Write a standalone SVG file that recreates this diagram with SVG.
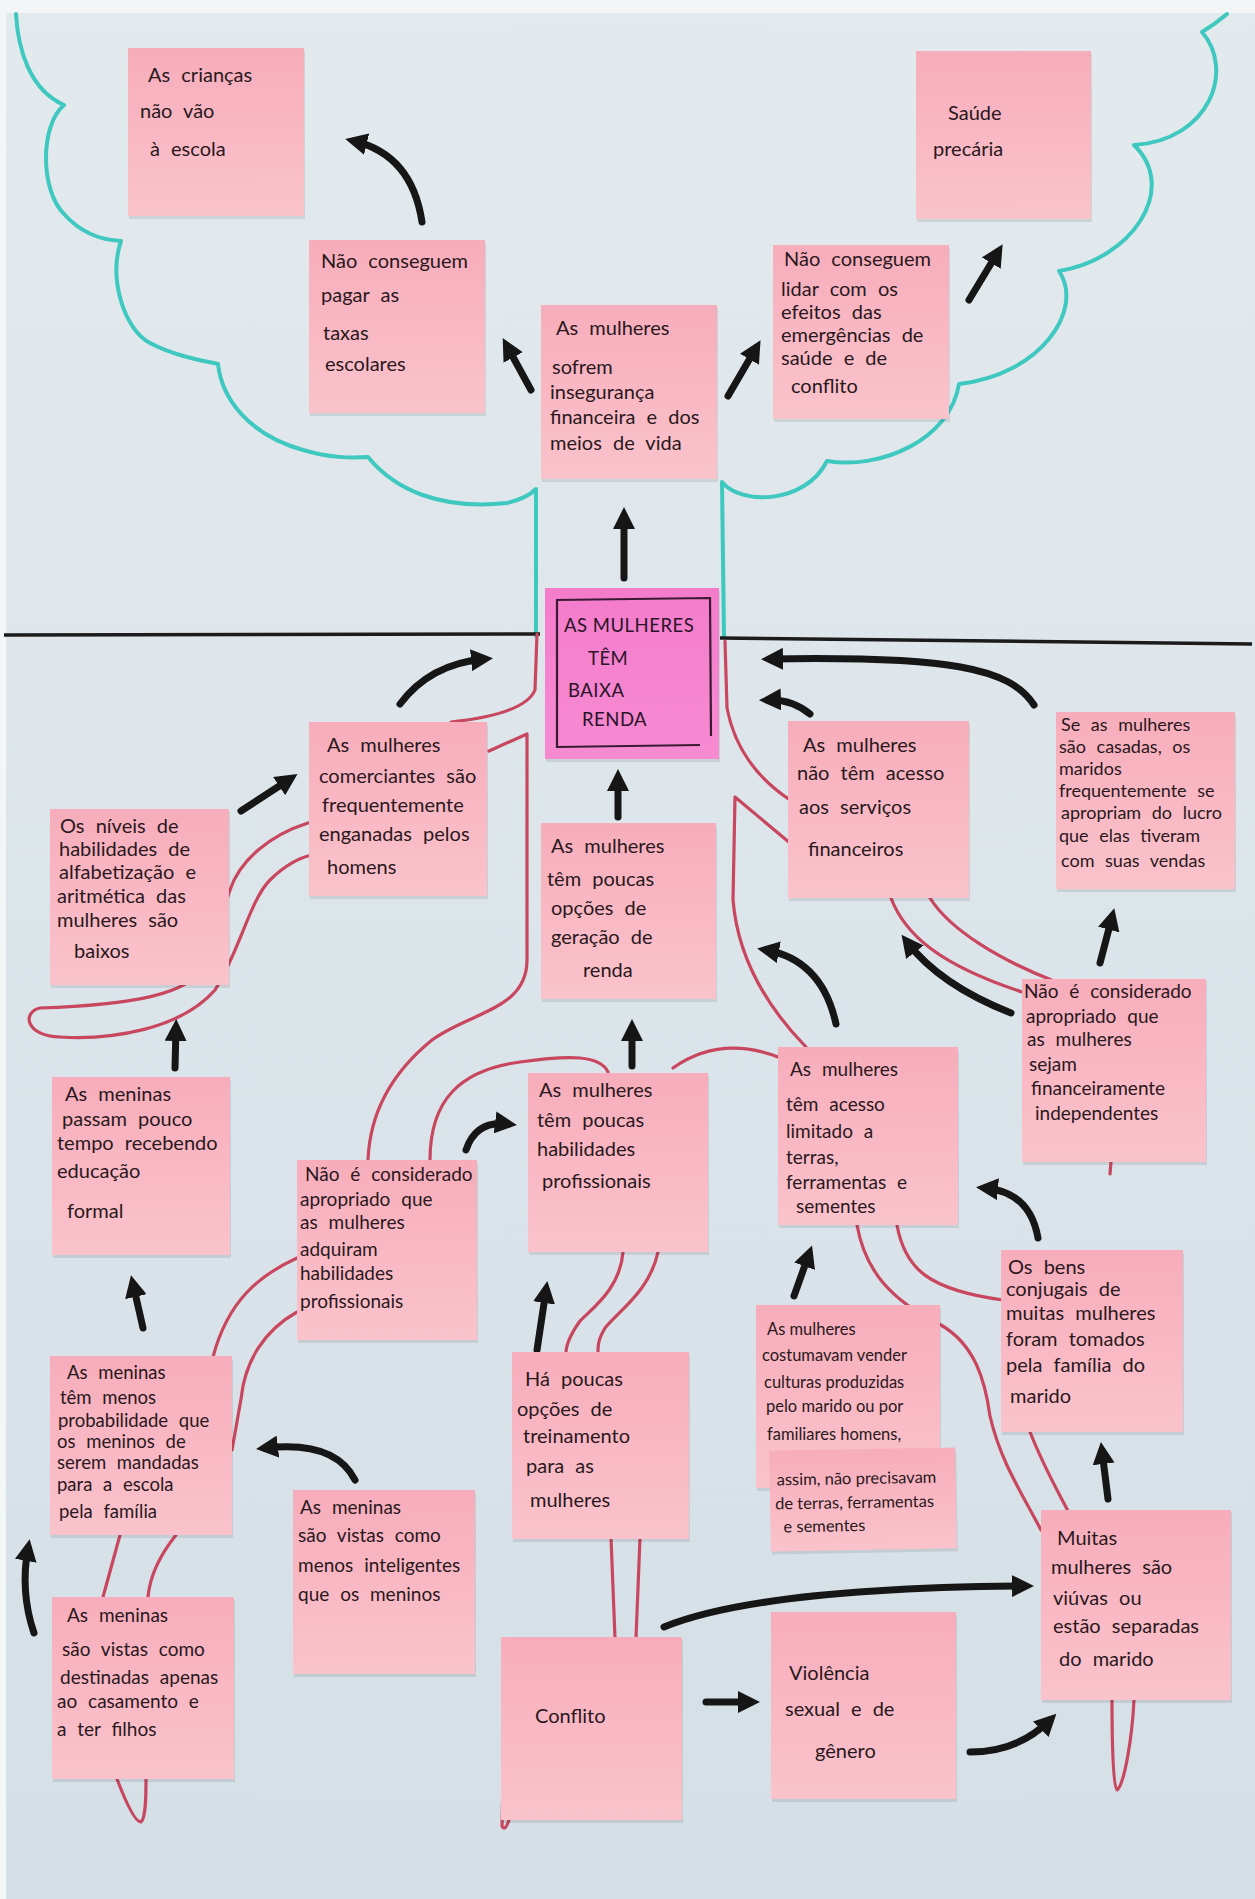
<svg xmlns="http://www.w3.org/2000/svg" width="1255" height="1899" viewBox="0 0 1255 1899">
<defs>
<linearGradient id="board" x1="0" y1="0" x2="0" y2="1">
<stop offset="0" stop-color="#e3eaee"/>
<stop offset="1" stop-color="#d4dfe6"/>
</linearGradient>
<linearGradient id="note" x1="0" y1="0" x2="0" y2="1">
<stop offset="0" stop-color="#f7adbb"/>
<stop offset="1" stop-color="#fac3cc"/>
</linearGradient>
<linearGradient id="core" x1="0" y1="0" x2="0" y2="1">
<stop offset="0" stop-color="#f47ccb"/>
<stop offset="1" stop-color="#f68bd2"/>
</linearGradient>
<marker id="ah" markerUnits="userSpaceOnUse" viewBox="0 0 22 22" markerWidth="22" markerHeight="22" refX="13" refY="11" orient="auto">
<path d="M0,0 L22,11 L0,22 z" fill="#161616"/>
</marker>
<style>
.n{fill:url(#note)}
.sh{fill:#000;opacity:0.09}
.t{font-family:Lato,"Liberation Sans",sans-serif;font-size:20px;fill:#2a1820;word-spacing:6px}
.ts{font-family:Lato,"Liberation Sans",sans-serif;font-size:16.5px;fill:#2a1820}
.tc{font-family:Lato,"Liberation Sans",sans-serif;font-size:18.5px;fill:#2a1428;letter-spacing:0.5px}
.root{fill:none;stroke:#c8475f;stroke-width:3.2;stroke-linecap:round;stroke-linejoin:round}
.arw{fill:none;stroke:#161616;stroke-width:7;stroke-linecap:round;marker-end:url(#ah)}
.cloud{fill:none;stroke:#3fc8bf;stroke-width:4;stroke-linecap:round;stroke-linejoin:round}
.hl{fill:none;stroke:#1b1b1b;stroke-width:3.5}
</style>
</defs>
<rect x="0" y="0" width="1255" height="1899" fill="#f3f6f7"/>
<rect x="6" y="13" width="1249" height="1886" fill="url(#board)"/>

<g id="tree-outline">
<path class="cloud" d="M16,14 C18,50 30,90 64,105 C40,125 40,190 64,214 C80,232 100,240 121,241 C108,280 125,330 150,343 C175,356 200,360 218,364 C222,400 250,435 303,450 C330,458 350,458 368,457 C395,490 440,510 507,503 C520,500 530,495 536,489 L536,636"/>
<path class="cloud" d="M724,636 L722,482 C740,505 805,505 827,461 C880,470 950,440 959,384 C1040,375 1085,310 1059,271 C1130,260 1180,190 1134,145 C1210,140 1235,70 1202,32 C1212,26 1220,20 1227,14"/>
<path class="hl" d="M4,635 L540,634"/>
<path class="hl" d="M720,638 L1252,644"/>
</g>

<g id="connectors">
<g id="roots">
<path class="root" d="M537,634 L535,690 Q525,714 451,722"/>
<path class="root" d="M489,751 L527,734 L527,960 C527,1010 470,1012 432,1040 C395,1070 370,1110 368,1160"/>
<path class="root" d="M430,1160 C430,1100 460,1070 520,1062 C570,1055 600,1055 608,1072"/>
<path class="root" d="M673,1068 Q720,1035 778,1057"/>
<path class="root" d="M308,823 C270,835 240,860 230,890 L205,965 C190,995 130,1005 40,1008 C22,1012 25,1036 60,1037 C110,1040 180,1030 215,990 C240,950 250,900 270,880 C285,865 300,858 308,856"/>
<path class="root" d="M725,641 L727,708 C735,750 760,780 790,800"/>
<path class="root" d="M790,843 L735,797 L733,900 C738,960 770,1010 806,1047"/>
<path class="root" d="M891,898 C905,935 940,965 1022,992"/>
<path class="root" d="M930,898 C950,930 1000,960 1054,981"/>
<path class="root" d="M1111,1162 L1110,1174"/>
<path class="root" d="M857,1225 C865,1270 890,1300 941,1325 C975,1345 985,1380 990,1416 C1000,1460 1020,1490 1041,1530"/>
<path class="root" d="M897,1225 C905,1270 930,1290 1003,1300"/>
<path class="root" d="M1030,1432 C1045,1470 1060,1495 1069,1513"/>
<path class="root" d="M611,1538 L615,1638"/>
<path class="root" d="M640,1538 L636,1638"/>
<path class="root" d="M623,1252 C620,1290 590,1310 580,1321 C570,1335 566,1345 566,1353"/>
<path class="root" d="M658,1252 C650,1290 620,1310 605,1328 C598,1340 598,1345 598,1353"/>
<path class="root" d="M297,1258 C260,1275 228,1300 213,1357"/>
<path class="root" d="M297,1312 C265,1330 245,1360 241,1399 L232,1450"/>
<path class="root" d="M120,1535 L103,1597"/>
<path class="root" d="M176,1535 C160,1555 150,1575 148,1597"/>
<path class="root" d="M117,1779 C125,1800 135,1822 141,1822 C146,1818 146,1795 146,1779"/>
<path class="root" d="M1112,1700 C1112,1740 1113,1790 1117,1790 C1124,1785 1132,1740 1134,1700"/>
<path class="root" d="M503,1780 L502,1826 Q505,1832 509,1820"/>
</g>
<g id="arrows">
<path class="arw" d="M422,222 Q412,155 354,141"/>
<path class="arw" d="M531,390 L507,346"/>
<path class="arw" d="M728,396 L756,348"/>
<path class="arw" d="M969,300 L998,252"/>
<path class="arw" d="M624,578 L624,516"/>
<path class="arw" d="M400,704 Q430,664 484,659"/>
<path class="arw" d="M1034,705 C1010,668 950,656 770,659"/>
<path class="arw" d="M810,714 Q792,699 768,700"/>
<path class="arw" d="M618,817 L618,778"/>
<path class="arw" d="M241,811 L290,779"/>
<path class="arw" d="M175,1068 L176,1028"/>
<path class="arw" d="M632,1066 L632,1028"/>
<path class="arw" d="M836,1024 Q822,960 766,950"/>
<path class="arw" d="M1011,1013 Q940,985 907,942"/>
<path class="arw" d="M1100,963 L1112,917"/>
<path class="arw" d="M466,1150 Q476,1120 508,1124"/>
<path class="arw" d="M1038,1238 Q1030,1192 985,1188"/>
<path class="arw" d="M794,1296 L809,1254"/>
<path class="arw" d="M537,1350 L546,1290"/>
<path class="arw" d="M143,1328 L133,1284"/>
<path class="arw" d="M355,1480 Q335,1440 265,1448"/>
<path class="arw" d="M34,1633 Q20,1592 28,1548"/>
<path class="arw" d="M1108,1499 L1102,1451"/>
<path class="arw" d="M664,1627 Q760,1588 1025,1586"/>
<path class="arw" d="M706,1702 L751,1702"/>
<path class="arw" d="M970,1752 Q1018,1752 1050,1720"/>
</g>
</g>

<g id="n-criancas">
<rect class="sh" x="129" y="51" width="176" height="168"/>
<rect class="n" x="128" y="48" width="176" height="168"/>
<text class="t"><tspan x="148" y="82">As   crianças</tspan><tspan x="140" y="118">não   vão</tspan><tspan x="150" y="156">à   escola</tspan></text>
</g>
<g id="n-saude">
<rect class="sh" x="917" y="54" width="175" height="168"/>
<rect class="n" x="916" y="51" width="175" height="168"/>
<text class="t"><tspan x="948" y="120">Saúde</tspan><tspan x="933" y="156">precária</tspan></text>
</g>
<g id="n-pagar">
<rect class="sh" x="310" y="243" width="176" height="173"/>
<rect class="n" x="309" y="240" width="176" height="173"/>
<text class="t"><tspan x="321" y="268">Não conseguem</tspan><tspan x="321" y="302">pagar   as</tspan><tspan x="323" y="340">taxas</tspan><tspan x="325" y="371">escolares</tspan></text>
</g>
<g id="n-inseguranca">
<rect class="sh" x="542" y="308" width="176" height="174"/>
<rect class="n" x="541" y="305" width="176" height="174"/>
<text class="t"><tspan x="556" y="335">As   mulheres</tspan><tspan x="552" y="374">sofrem</tspan><tspan x="550" y="399">insegurança</tspan><tspan x="550" y="424">financeira e dos</tspan><tspan x="550" y="450">meios de vida</tspan></text>
</g>
<g id="n-lidar">
<rect class="sh" x="774" y="248" width="176" height="174"/>
<rect class="n" x="773" y="245" width="176" height="174"/>
<text class="t"><tspan x="784" y="266">Não conseguem</tspan><tspan x="781" y="296">lidar com os</tspan><tspan x="781" y="319">efeitos das</tspan><tspan x="781" y="342">emergências de</tspan><tspan x="781" y="365">saúde e de</tspan><tspan x="791" y="393">conflito</tspan></text>
</g>
<g id="n-core">
<rect class="sh" x="546" y="591" width="174" height="171"/>
<rect x="545" y="588" width="174" height="171" fill="url(#core)"/>
<path d="M556,600 L710,598 L711,736 M557,600 L557,747 L700,745" fill="none" stroke="#3a1a33" stroke-width="2.2"/>
<text class="tc"><tspan x="564" y="632">AS MULHERES</tspan><tspan x="588" y="665">TÊM</tspan><tspan x="568" y="697">BAIXA</tspan><tspan x="582" y="726">RENDA</tspan></text>
</g>
<g id="n-comerciantes">
<rect class="sh" x="310" y="725" width="178" height="174"/>
<rect class="n" x="309" y="722" width="178" height="174"/>
<text class="t"><tspan x="327" y="752">As   mulheres</tspan><tspan x="319" y="783">comerciantes são</tspan><tspan x="322" y="812">frequentemente</tspan><tspan x="319" y="841">enganadas pelos</tspan><tspan x="327" y="874">homens</tspan></text>
</g>
<g id="n-servicos">
<rect class="sh" x="789" y="724" width="181" height="177"/>
<rect class="n" x="788" y="721" width="181" height="177"/>
<text class="t"><tspan x="803" y="752">As   mulheres</tspan><tspan x="797" y="780">não têm acesso</tspan><tspan x="799" y="814">aos   serviços</tspan><tspan x="808" y="856">financeiros</tspan></text>
</g>
<g id="n-maridos">
<rect class="sh" x="1057" y="715" width="179" height="177"/>
<rect class="n" x="1056" y="712" width="179" height="177"/>
<text class="t" style="font-size:18px"><tspan x="1061" y="731">Se as mulheres</tspan><tspan x="1059" y="753">são casadas, os</tspan><tspan x="1059" y="775">maridos</tspan><tspan x="1059" y="797">frequentemente se</tspan><tspan x="1061" y="819">apropriam do lucro</tspan><tspan x="1059" y="842">que elas tiveram</tspan><tspan x="1061" y="867">com suas vendas</tspan></text>
</g>
<g id="n-niveis">
<rect class="sh" x="51" y="812" width="179" height="176"/>
<rect class="n" x="50" y="809" width="179" height="176"/>
<text class="t"><tspan x="60" y="833">Os níveis de</tspan><tspan x="59" y="856">habilidades de</tspan><tspan x="59" y="879">alfabetização e</tspan><tspan x="57" y="903">aritmética das</tspan><tspan x="57" y="927">mulheres   são</tspan><tspan x="74" y="958">baixos</tspan></text>
</g>
<g id="n-opcoes">
<rect class="sh" x="542" y="826" width="175" height="176"/>
<rect class="n" x="541" y="823" width="175" height="176"/>
<text class="t"><tspan x="551" y="853">As   mulheres</tspan><tspan x="547" y="886">têm   poucas</tspan><tspan x="551" y="915">opções   de</tspan><tspan x="551" y="944">geração   de</tspan><tspan x="583" y="977">renda</tspan></text>
</g>
<g id="n-meninas-pouco">
<rect class="sh" x="53" y="1080" width="178" height="178"/>
<rect class="n" x="52" y="1077" width="178" height="178"/>
<text class="t"><tspan x="65" y="1101">As   meninas</tspan><tspan x="62" y="1126">passam   pouco</tspan><tspan x="57" y="1150">tempo recebendo</tspan><tspan x="57" y="1178">educação</tspan><tspan x="67" y="1218">formal</tspan></text>
</g>
<g id="n-adquiram">
<rect class="sh" x="298" y="1163" width="180" height="180"/>
<rect class="n" x="297" y="1160" width="180" height="180"/>
<text class="t" style="font-size:19px"><tspan x="305" y="1181">Não é considerado</tspan><tspan x="300" y="1206">apropriado que</tspan><tspan x="300" y="1229">as mulheres</tspan><tspan x="300" y="1256">adquiram</tspan><tspan x="300" y="1280">habilidades</tspan><tspan x="300" y="1308">profissionais</tspan></text>
</g>
<g id="n-habilidades">
<rect class="sh" x="529" y="1076" width="180" height="179"/>
<rect class="n" x="528" y="1073" width="180" height="179"/>
<text class="t"><tspan x="539" y="1097">As    mulheres</tspan><tspan x="537" y="1127">têm    poucas</tspan><tspan x="537" y="1156">habilidades</tspan><tspan x="542" y="1188">profissionais</tspan></text>
</g>
<g id="n-terras">
<rect class="sh" x="779" y="1050" width="180" height="178"/>
<rect class="n" x="778" y="1047" width="180" height="178"/>
<text class="t" style="font-size:19px"><tspan x="790" y="1076">As   mulheres</tspan><tspan x="786" y="1111">têm   acesso</tspan><tspan x="786" y="1138">limitado   a</tspan><tspan x="786" y="1164">terras,</tspan><tspan x="786" y="1189">ferramentas e</tspan><tspan x="796" y="1213">sementes</tspan></text>
</g>
<g id="n-independentes">
<rect class="sh" x="1023" y="982" width="184" height="183"/>
<rect class="n" x="1022" y="979" width="184" height="183"/>
<text class="t" style="font-size:19px"><tspan x="1024" y="998">Não é considerado</tspan><tspan x="1026" y="1023">apropriado que</tspan><tspan x="1027" y="1046">as mulheres</tspan><tspan x="1029" y="1071">sejam</tspan><tspan x="1031" y="1095">financeiramente</tspan><tspan x="1035" y="1120">independentes</tspan></text>
</g>
<g id="n-bens">
<rect class="sh" x="1002" y="1253" width="182" height="182"/>
<rect class="n" x="1001" y="1250" width="182" height="182"/>
<text class="t"><tspan x="1008" y="1274">Os   bens</tspan><tspan x="1006" y="1296">conjugais de</tspan><tspan x="1006" y="1320">muitas mulheres</tspan><tspan x="1006" y="1346">foram tomados</tspan><tspan x="1006" y="1372">pela família do</tspan><tspan x="1010" y="1403">marido</tspan></text>
</g>
<g id="n-menos-prob">
<rect class="sh" x="51" y="1359" width="182" height="179"/>
<rect class="n" x="50" y="1356" width="182" height="179"/>
<text class="t" style="font-size:18.5px"><tspan x="67" y="1379">As   meninas</tspan><tspan x="60" y="1404">têm menos</tspan><tspan x="58" y="1427">probabilidade que</tspan><tspan x="57" y="1448">os meninos de</tspan><tspan x="57" y="1469">serem mandadas</tspan><tspan x="57" y="1491">para a escola</tspan><tspan x="59" y="1518">pela família</tspan></text>
</g>
<g id="n-inteligentes">
<rect class="sh" x="294" y="1493" width="182" height="184"/>
<rect class="n" x="293" y="1490" width="182" height="184"/>
<text class="t" style="font-size:19px"><tspan x="300" y="1514">As meninas</tspan><tspan x="298" y="1542">são vistas como</tspan><tspan x="298" y="1572">menos inteligentes</tspan><tspan x="298" y="1601">que   os   meninos</tspan></text>
</g>
<g id="n-treinamento">
<rect class="sh" x="513" y="1355" width="177" height="187"/>
<rect class="n" x="512" y="1352" width="177" height="187"/>
<text class="t"><tspan x="525" y="1386">Há    poucas</tspan><tspan x="517" y="1416">opções    de</tspan><tspan x="523" y="1443">treinamento</tspan><tspan x="526" y="1473">para    as</tspan><tspan x="530" y="1507">mulheres</tspan></text>
</g>
<g id="n-costumavam">
<rect class="sh" x="757" y="1308" width="184" height="183"/>
<rect class="n" x="756" y="1305" width="184" height="183"/>
<text class="ts"><tspan x="767" y="1335">As   mulheres</tspan><tspan x="762" y="1361">costumavam   vender</tspan><tspan x="764" y="1388">culturas produzidas</tspan><tspan x="766" y="1412">pelo marido ou por</tspan><tspan x="767" y="1440">familiares homens,</tspan></text>
</g>
<g id="n-assim" transform="rotate(-1 863 1500)">
<rect class="sh" x="771" y="1452" width="186" height="101"/>
<rect class="n" x="770" y="1449" width="186" height="101"/>
<text class="ts"><tspan x="777" y="1484">assim, não precisavam</tspan><tspan x="775" y="1508">de terras, ferramentas</tspan><tspan x="783" y="1531">e sementes</tspan></text>
</g>
<g id="n-destinadas">
<rect class="sh" x="53" y="1600" width="182" height="182"/>
<rect class="n" x="52" y="1597" width="182" height="182"/>
<text class="t" style="font-size:19px"><tspan x="67" y="1622">As   meninas</tspan><tspan x="62" y="1656">são vistas como</tspan><tspan x="60" y="1684">destinadas apenas</tspan><tspan x="57" y="1708">ao casamento e</tspan><tspan x="57" y="1736">a ter filhos</tspan></text>
</g>
<g id="n-conflito">
<rect class="sh" x="502" y="1640" width="181" height="183"/>
<rect class="n" x="501" y="1637" width="181" height="183"/>
<text class="t"><tspan x="535" y="1723">Conflito</tspan></text>
</g>
<g id="n-violencia">
<rect class="sh" x="772" y="1615" width="185" height="187"/>
<rect class="n" x="771" y="1612" width="185" height="187"/>
<text class="t"><tspan x="789" y="1680">Violência</tspan><tspan x="785" y="1716">sexual   e   de</tspan><tspan x="815" y="1758">gênero</tspan></text>
</g>
<g id="n-viuvas">
<rect class="sh" x="1042" y="1513" width="190" height="190"/>
<rect class="n" x="1041" y="1510" width="190" height="190"/>
<text class="t"><tspan x="1057" y="1545">Muitas</tspan><tspan x="1051" y="1574">mulheres são</tspan><tspan x="1053" y="1605">viúvas ou</tspan><tspan x="1053" y="1633">estão separadas</tspan><tspan x="1059" y="1666">do marido</tspan></text>
</g>
</svg>
